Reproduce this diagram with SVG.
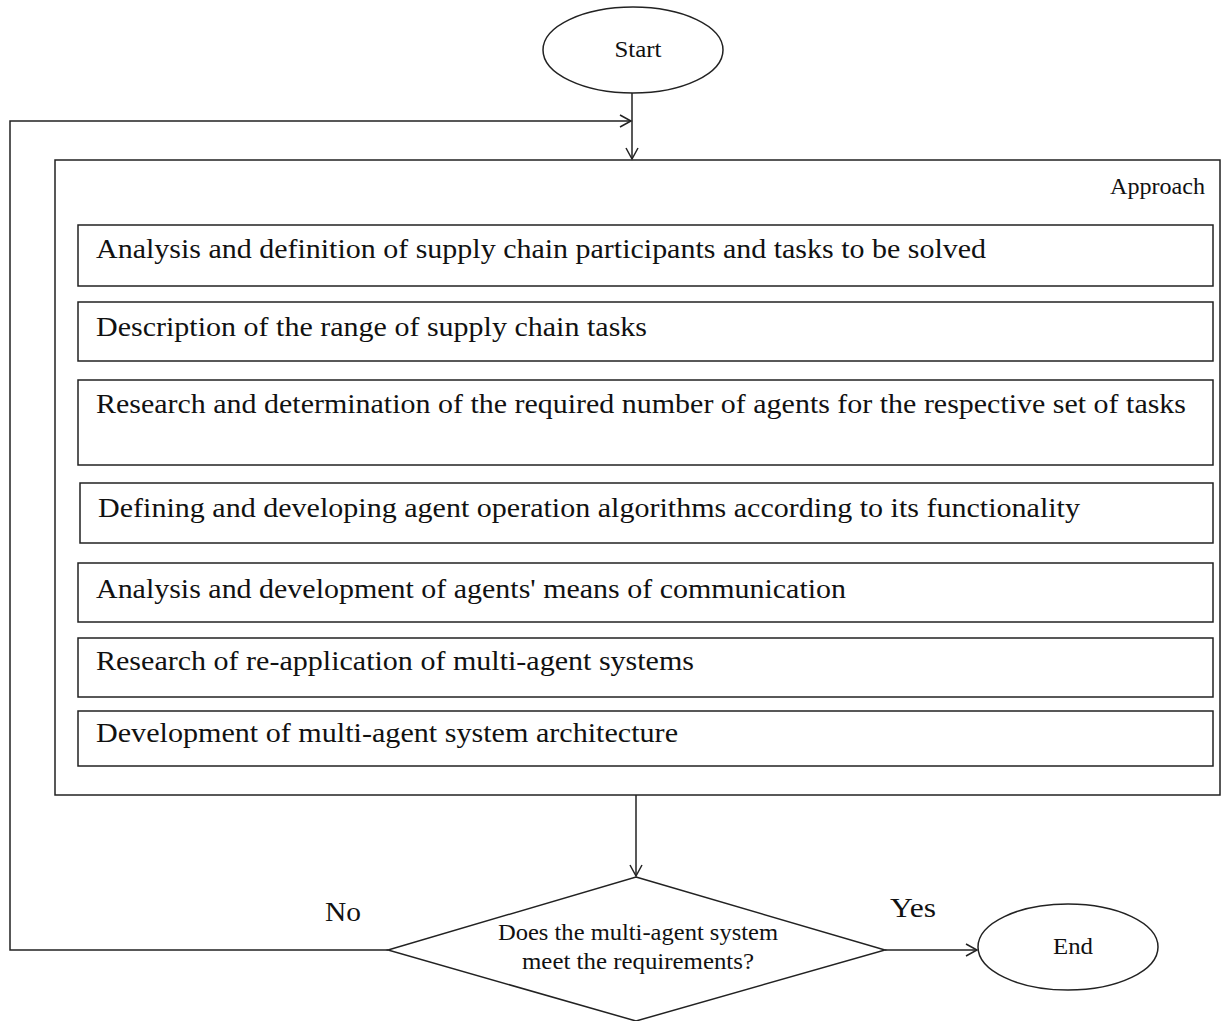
<svg xmlns="http://www.w3.org/2000/svg" width="1221" height="1021" viewBox="0 0 1221 1021">
<style>
.s{fill:#fff;stroke:#222;stroke-width:1.5}
.c{fill:none;stroke:#222;stroke-width:1.5}
text{font-family:"Liberation Serif","Times New Roman",serif;fill:#111}
.b{font-size:27px}
.m{font-size:24px}
.l{font-size:28px}
</style>
<defs>
<marker id="a" markerWidth="14" markerHeight="14" refX="12" refY="7" orient="auto" markerUnits="userSpaceOnUse">
<path d="M1,1 L12,7 L1,13" fill="none" stroke="#222" stroke-width="1.5"/>
</marker>
</defs>
<g id="start"><ellipse class="s" cx="633" cy="50" rx="90" ry="43"/><text class="m" x="638" y="57" text-anchor="middle" textLength="47" lengthAdjust="spacingAndGlyphs">Start</text></g>
<g id="approach">
<rect class="s" x="55" y="160" width="1165" height="635"/>
<text class="m" x="1205" y="194" text-anchor="end" textLength="95" lengthAdjust="spacingAndGlyphs">Approach</text>
</g>
<g id="step1"><rect class="s" x="78" y="225" width="1135" height="61"/><text class="b" x="96" y="258" textLength="890" lengthAdjust="spacingAndGlyphs">Analysis and definition of supply chain participants and tasks to be solved</text></g>
<g id="step2"><rect class="s" x="78" y="302" width="1135" height="59"/><text class="b" x="96" y="336" textLength="551" lengthAdjust="spacingAndGlyphs">Description of the range of supply chain tasks</text></g>
<g id="step3"><rect class="s" x="78" y="380" width="1135" height="85"/><text class="b" x="96" y="413" textLength="1090" lengthAdjust="spacingAndGlyphs">Research and determination of the required number of agents for the respective set of tasks</text></g>
<g id="step4"><rect class="s" x="80" y="483" width="1133" height="60"/><text class="b" x="98" y="517" textLength="982" lengthAdjust="spacingAndGlyphs">Defining and developing agent operation algorithms according to its functionality</text></g>
<g id="step5"><rect class="s" x="78" y="563" width="1135" height="59"/><text class="b" x="96" y="598" textLength="750" lengthAdjust="spacingAndGlyphs">Analysis and development of agents' means of communication</text></g>
<g id="step6"><rect class="s" x="78" y="638" width="1135" height="59"/><text class="b" x="96" y="670" textLength="598" lengthAdjust="spacingAndGlyphs">Research of re-application of multi-agent systems</text></g>
<g id="step7"><rect class="s" x="78" y="711" width="1135" height="55"/><text class="b" x="96" y="742" textLength="582" lengthAdjust="spacingAndGlyphs">Development of multi-agent system architecture</text></g>
<g id="decision">
<polygon class="s" points="636,877 885,950 636,1021 388,950"/>
<text class="m" x="638" y="940" text-anchor="middle" textLength="280" lengthAdjust="spacingAndGlyphs">Does the multi-agent system</text>
<text class="m" x="638" y="969" text-anchor="middle" textLength="232" lengthAdjust="spacingAndGlyphs">meet the requirements?</text>
</g>
<g id="end"><ellipse class="s" cx="1068" cy="947" rx="90" ry="43"/><text class="m" x="1073" y="954" text-anchor="middle" textLength="40" lengthAdjust="spacingAndGlyphs">End</text></g>
<g id="connectors">
<path class="c" d="M632,93 V159" marker-end="url(#a)"/>
<path class="c" d="M388,950 H10 V121 H631" marker-end="url(#a)"/>
<path class="c" d="M636,795 V876" marker-end="url(#a)"/>
<path class="c" d="M885,950 H977" marker-end="url(#a)"/>
<text class="l" x="343" y="921" text-anchor="middle" textLength="36" lengthAdjust="spacingAndGlyphs">No</text>
<text class="l" x="913" y="917" text-anchor="middle" textLength="46" lengthAdjust="spacingAndGlyphs">Yes</text>
</g>
</svg>
